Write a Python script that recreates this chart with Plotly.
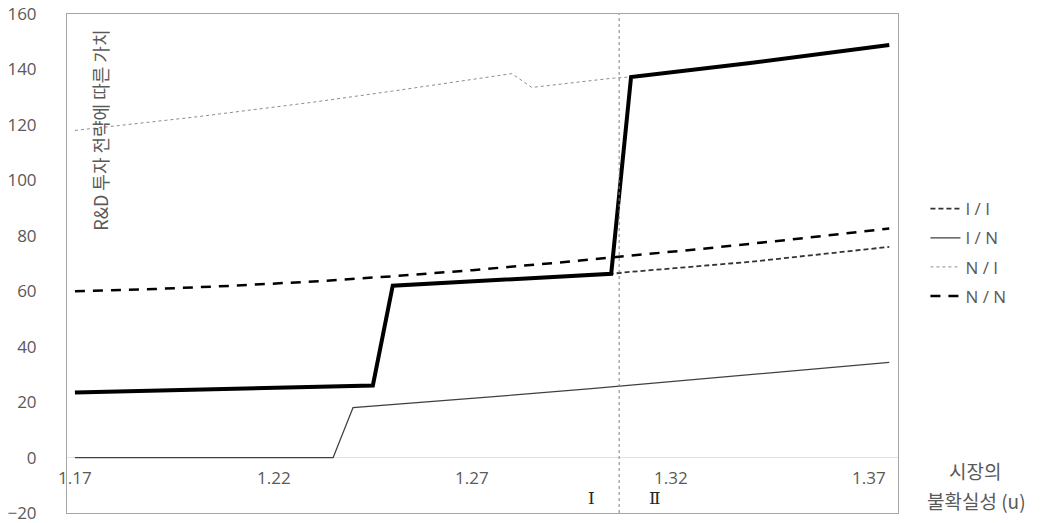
import plotly.graph_objects as go

# Market uncertainty (u) and strategy values
u_ii = [1.17, 1.20, 1.245, 1.25, 1.28, 1.305, 1.31, 1.34, 1.375]
v_ii = [23.5, 24.5, 26.0, 62.0, 64.3, 66.3, 67.0, 70.6, 76.0]

u_in = [1.17, 1.235, 1.24, 1.26, 1.28, 1.30, 1.32, 1.34, 1.36, 1.375]
v_in = [0.0, 0.0, 18.0, 20.2, 22.5, 24.9, 27.4, 30.0, 32.6, 34.3]

u_ni = [1.17, 1.20, 1.23, 1.25, 1.28, 1.285, 1.305, 1.31, 1.34, 1.375]
v_ni = [118.0, 122.8, 128.2, 132.2, 138.5, 133.5, 136.8, 137.3, 142.3, 148.8]

u_nn = [1.17, 1.19, 1.21, 1.23, 1.25, 1.27, 1.29, 1.31, 1.33, 1.35, 1.375]
v_nn = [60.0, 60.8, 62.0, 63.5, 65.4, 67.6, 70.1, 72.8, 75.6, 78.6, 82.6]

# Equilibrium path (bold)
u_eq = [1.17, 1.20, 1.245, 1.25, 1.28, 1.305, 1.31, 1.34, 1.375]
v_eq = [23.5, 24.5, 26.0, 62.0, 64.3, 66.3, 137.3, 142.3, 148.8]

x_ticks = [1.17, 1.22, 1.27, 1.32, 1.37]
y_ticks = [-20, 0, 20, 40, 60, 80, 100, 120, 140, 160]
boundary_u = 1.307

FONT = "Open Sans, Noto Sans CJK KR"
KFONT = "Noto Sans CJK KR"
GREY = "#595959"

fig = go.Figure()

fig.add_trace(go.Scatter(x=u_ni, y=v_ni, mode="lines", name="N / I",
                         line=dict(color="#8c8c8c", width=1, dash="dot"),
                         legendrank=3, legendgroup="c"))
fig.add_trace(go.Scatter(x=u_in, y=v_in, mode="lines", name="I / N",
                         line=dict(color="#404040", width=1.2),
                         legendrank=2, legendgroup="b"))
fig.add_trace(go.Scatter(x=u_nn, y=v_nn, mode="lines", name="N / N",
                         line=dict(color="#000000", width=2.5, dash="10px,8px"),
                         legendrank=4, legendgroup="d"))
fig.add_trace(go.Scatter(x=u_ii, y=v_ii, mode="lines", name="I / I",
                         line=dict(color="#333333", width=1.8, dash="5px,3px"),
                         legendrank=1, legendgroup="a"))
fig.add_trace(go.Scatter(x=u_eq, y=v_eq, mode="lines", showlegend=False,
                         line=dict(color="#000000", width=4)))

# Regime boundary
fig.add_shape(type="line", x0=boundary_u, x1=boundary_u, y0=0, y1=1,
              xref="x", yref="paper",
              line=dict(color="#7f7f7f", width=1, dash="dot"))

annotations = []
for t in x_ticks:
    annotations.append(dict(x=t, y=0, xref="x", yref="y", text=f"{t:.2f}",
                            showarrow=False, yshift=-20,
                            xanchor="center", yanchor="middle",
                            font=dict(family=FONT, size=17, color=GREY)))

annotations += [
    dict(x=1.3001, y=-14.5, xref="x", yref="y", text="Ⅰ", showarrow=False,
         xanchor="center", yanchor="middle",
         font=dict(family="DejaVu Serif, Liberation Serif", size=17, color="#262626")),
    dict(x=1.316, y=-14.5, xref="x", yref="y", text="Ⅱ", showarrow=False,
         xanchor="center", yanchor="middle",
         font=dict(family="DejaVu Serif, Liberation Serif", size=17, color="#262626")),
    dict(x=0.0397, y=0.768, xref="paper", yref="paper", textangle=-90,
         text="R&D 투자 전략에 따른 가치", showarrow=False,
         xanchor="center", yanchor="middle",
         font=dict(family=KFONT, size=18, color=GREY)),
    dict(x=1.0927, y=0.086, xref="paper", yref="paper", text="시장의",
         showarrow=False, xanchor="center", yanchor="middle",
         font=dict(family=KFONT, size=19, color=GREY)),
    dict(x=1.095, y=0.026, xref="paper", yref="paper", text="불확실성 (u)",
         showarrow=False, xanchor="center", yanchor="middle",
         font=dict(family=KFONT, size=19, color=GREY)),
]

fig.update_layout(
    width=1044, height=523,
    margin=dict(l=67, r=146, t=14, b=10, autoexpand=False),
    paper_bgcolor="white", plot_bgcolor="white",
    font=dict(family=FONT, size=17, color=GREY),
    showlegend=True,
    legend=dict(x=1.033, y=0.645, xanchor="left", yanchor="top",
                font=dict(family=FONT, size=17, color=GREY),
                tracegroupgap=4, itemwidth=30, traceorder="grouped",
                bgcolor="rgba(0,0,0,0)"),
    annotations=annotations,
)

fig.update_xaxes(range=[1.168, 1.3772], showticklabels=False, showgrid=False,
                 zeroline=False, showline=True, mirror=True,
                 linecolor="#a6a6a6", linewidth=1, ticks="", automargin=False)
fig.update_yaxes(range=[-20, 160], tickvals=y_ticks, showgrid=False,
                 zeroline=True, zerolinecolor="#e3e3e3", zerolinewidth=1,
                 showline=True, mirror=True, linecolor="#a6a6a6", linewidth=1,
                 ticks="", ticklabelstandoff=26, automargin=False,
                 ticklabeloverflow="allow",
                 tickfont=dict(family=FONT, size=17, color=GREY))

fig.write_html("out.html")
